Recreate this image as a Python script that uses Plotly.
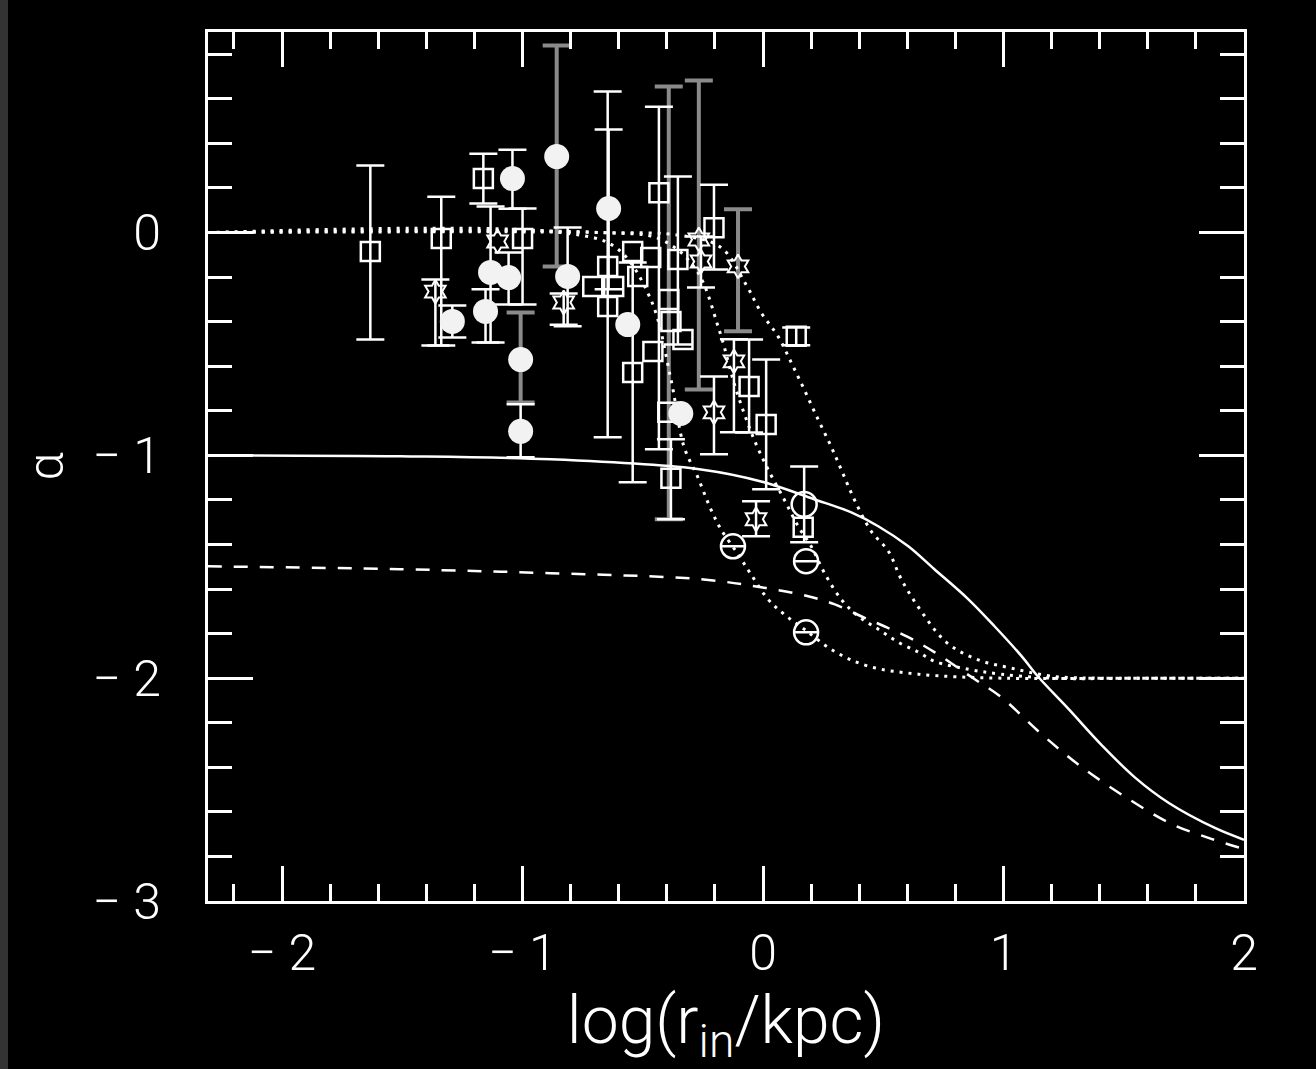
import plotly.graph_objects as go

# ---- model curves: logarithmic slope alpha versus log(r_in/kpc) ----
solid_x = [-2.31, -1.508, -0.883, -0.258, -0.008, 0.2125, 0.367, 0.479, 0.604, 0.7125,
           0.854, 0.9625, 1.075, 1.146, 1.271, 1.408, 1.546, 1.6875, 1.879, 2.0]
solid_y = [-1.0, -1.004, -1.018, -1.063, -1.117, -1.197, -1.256, -1.318, -1.408, -1.511,
           -1.646, -1.767, -1.901, -1.996, -2.139, -2.300, -2.445, -2.560, -2.672, -2.725]

dashed_x = [-2.31, -1.508, -0.883, -0.258, -0.008, 0.1875, 0.296, 0.408, 0.504, 0.604,
            0.7125, 0.879, 0.99, 1.158, 1.325, 1.521, 1.7, 1.867, 2.0]
dashed_y = [-1.498, -1.511, -1.529, -1.556, -1.592, -1.632, -1.668, -1.722, -1.767, -1.816,
            -1.883, -2.004, -2.085, -2.251, -2.399, -2.543, -2.655, -2.722, -2.767]

dotA_x = [-2.31, -0.675, -0.342, -0.175, -0.071, -0.008, 0.0625, 0.117, 0.171, 0.229, 0.283,
          0.325, 0.379, 0.45, 0.521, 0.575, 0.658, 0.7625, 0.8875, 1.033, 1.2, 1.408, 1.7, 2.0]
dotA_y = [0.0, 0.0, -0.013, -0.067, -0.233, -0.359, -0.466, -0.583, -0.704, -0.839, -0.960,
          -1.063, -1.197, -1.341, -1.430, -1.556, -1.700, -1.839, -1.915, -1.955, -1.991, -2.0,
          -2.0, -2.0]

dotB_x = [-2.31, -0.675, -0.425, -0.279, -0.183, -0.1125, -0.0375, 0.021, 0.0875, 0.146, 0.2,
          0.254, 0.325, 0.396, 0.479, 0.5625, 0.646, 0.7125, 0.854, 0.99, 1.2, 1.6, 2.0]
dotB_y = [0.0, 0.0, -0.031, -0.166, -0.435, -0.704, -0.928, -1.063, -1.197, -1.318, -1.408,
          -1.525, -1.646, -1.722, -1.780, -1.839, -1.883, -1.924, -1.960, -1.982, -2.0, -2.0, -2.0]

dotC_x = [-2.31, -0.842, -0.6125, -0.467, -0.383, -0.329, -0.271, -0.217, -0.175, -0.104,
          -0.05, 0.021, 0.0875, 0.171, 0.296, 0.4375, 0.646, 0.99, 1.5, 2.0]
dotC_y = [0.0, 0.0, -0.067, -0.300, -0.659, -0.960, -1.099, -1.242, -1.332, -1.444,
          -1.534, -1.646, -1.713, -1.780, -1.879, -1.946, -1.982, -2.0, -2.0, -2.0]

# ---- measured slopes (open squares) ----
sq_x = [-1.633, -1.338, -1.163, -1.0, -0.433, -0.204, -0.646, -0.542, -0.467, -0.354, -0.708,
        -0.621, -0.521, -0.392, -0.646, -0.383, -0.333, -0.542, -0.458, -0.396, -0.383, -0.058,
        0.013, 0.138, 0.167]
sq_y = [-0.085, -0.027, 0.242, -0.027, 0.179, 0.022, -0.152, -0.085, -0.112, -0.121, -0.242,
        -0.242, -0.197, -0.300, -0.332, -0.399, -0.480, -0.628, -0.534, -0.807, -1.103, -0.691,
        -0.861, -0.466, -1.323]
sq_up = [0.386, 0.188, 0.112, 0.135, 0.386, 0.193, 0.785, 0, 0, 0.372, 0, 0, 0, 0, 0, 0, 0,
         0.493, 0, 0, 0.175, 0.211, 0.291, 0.04, 0]
sq_dn = [0.395, 0.480, 0.112, 0.296, 1.152, 0.188, 0.767, 0, 0, 0.381, 0, 0, 0, 0, 0, 0, 0,
         0.493, 0, 0, 0.184, 0.206, 0.291, 0.04, 0]

# ---- filled circles ----
ci_x = [-0.858, -1.042, -0.642, -1.133, -1.058, -0.8125, -1.154, -1.292, -0.5625, -1.008, -1.008, -0.342]
ci_y = [0.341, 0.242, 0.108, -0.179, -0.202, -0.197, -0.354, -0.399, -0.413, -0.570, -0.892, -0.812]
ci_up = [0, 0.130, 0.354, 0.296, 0.112, 0.220, 0.099, 0.072, 0, 0, 0.121, 0]
ci_dn = [0, 0.135, 0.363, 0.314, 0.121, 0.224, 0.139, 0.072, 0, 0, 0.117, 0]

# ---- stars ----
st_x = [-1.3625, -1.104, -0.829, -0.267, -0.258, -0.104, -0.121, -0.204, -0.029]
st_y = [-0.265, -0.040, -0.314, -0.031, -0.130, -0.152, -0.578, -0.807, -1.287]
st_up = [0.054, 0, 0.04, 0, 0.112, 0, 0.099, 0.161, 0.081]
st_dn = [0.242, 0, 0.10, 0, 0.117, 0, 0.318, 0.188, 0.076]

# ---- open circle ----
oc_x = [0.171]
oc_y = [-1.220]
oc_up = [0.170]
oc_dn = [0.170]

# ---- barred circles ----
th_x = [-0.125, 0.179, 0.179]
th_y = [-1.408, -1.475, -1.794]

# ---- grey (lower weight) error bars ----
gr_x = [-0.392, -0.858, -1.008, -0.267, -0.104]
gr_y = [-0.300, 0.341, -0.570, -0.031, -0.152]
gr_up = [0.955, 0.498, 0.211, 0.713, 0.256]
gr_dn = [0.987, 0.493, 0.193, 0.673, 0.291]

WHITE = "#ffffff"
GREY = "#8a8a8a"

fig = go.Figure()


def bars(x, y, up, dn, color, thick, width):
    keep = [i for i in range(len(x)) if up[i] > 0 or dn[i] > 0]
    fig.add_trace(go.Scatter(
        x=[x[i] for i in keep], y=[y[i] for i in keep], mode="markers",
        marker=dict(size=1, opacity=0), hoverinfo="skip", showlegend=False,
        error_y=dict(type="data", symmetric=False,
                     array=[up[i] for i in keep], arrayminus=[dn[i] for i in keep],
                     color=color, thickness=thick, width=width)))


bars(gr_x, gr_y, gr_up, gr_dn, GREY, 4, 14)

for cx, cy, dash, w in [(solid_x, solid_y, "solid", 2.5), (dashed_x, dashed_y, "14px,12px", 2.5),
                        (dotA_x, dotA_y, "3px,6px", 3), (dotB_x, dotB_y, "3px,6px", 3),
                        (dotC_x, dotC_y, "3px,6px", 3)]:
    fig.add_trace(go.Scatter(x=cx, y=cy, mode="lines", line_shape="spline",
                             line=dict(color=WHITE, width=w, dash=dash, simplify=False),
                             cliponaxis=False, hoverinfo="skip", showlegend=False))

bars(sq_x, sq_y, sq_up, sq_dn, WHITE, 2.5, 14)
bars(ci_x, ci_y, ci_up, ci_dn, WHITE, 2.5, 14)
bars(st_x, st_y, st_up, st_dn, WHITE, 2.5, 14)
bars(oc_x, oc_y, oc_up, oc_dn, WHITE, 2.5, 14)

fig.add_trace(go.Scatter(x=sq_x, y=sq_y, mode="markers", showlegend=False,
                         marker=dict(symbol="square-open", size=19, color=WHITE,
                                     line=dict(width=2.5, color=WHITE))))
fig.add_trace(go.Scatter(x=ci_x, y=ci_y, mode="markers", showlegend=False,
                         marker=dict(symbol="circle", size=25, color="#f2f2f2",
                                     line=dict(width=0))))
fig.add_trace(go.Scatter(x=st_x, y=st_y, mode="markers", showlegend=False,
                         marker=dict(symbol="hexagram-open", size=18, color=WHITE,
                                     line=dict(width=2, color=WHITE))))
fig.add_trace(go.Scatter(x=oc_x, y=oc_y, mode="markers", showlegend=False,
                         marker=dict(symbol="circle-open", size=25, color=WHITE,
                                     line=dict(width=2.5, color=WHITE))))
fig.add_trace(go.Scatter(x=th_x, y=th_y, mode="markers", showlegend=False,
                         marker=dict(symbol="circle-open", size=24, color=WHITE,
                                     line=dict(width=2.5, color=WHITE)),
                         error_y=dict(type="constant", value=0, color=WHITE,
                                      thickness=2.5, width=11)))

FONT = dict(family="Roboto, Liberation Sans, sans-serif", size=50, color=WHITE, weight=300)
TITLE_FONT = dict(family="Roboto, Liberation Sans, sans-serif", size=66, color=WHITE, weight=300)

fig.update_layout(
    width=1316, height=1069,
    paper_bgcolor="#000000", plot_bgcolor="#000000",
    margin=dict(l=208, r=72, t=32, b=168),
    font=FONT,
    shapes=[dict(type="rect", xref="paper", yref="paper",
                 x0=-208 / 1036, x1=-200 / 1036, y0=-168 / 869, y1=1 + 32 / 869,
                 fillcolor="#333333", line=dict(width=0), layer="below")],
    xaxis=dict(range=[-2.308, 2.0], tickvals=[-2, -1, 0, 1, 2],
               ticktext=["\u2212 2", "\u2212 1", "0", "1", "2"],
               ticks="inside", ticklen=35, tickwidth=2.5, tickcolor=WHITE,
               showline=True, linecolor=WHITE, linewidth=3, mirror="allticks",
               showgrid=False, zeroline=False, tickfont=FONT,
               ticklabelstandoff=6,
               minor=dict(dtick=0.2, tick0=0, ticks="inside", ticklen=17,
                          tickwidth=2.5, tickcolor=WHITE, showgrid=False),
               title=dict(text="log(r<sub>in</sub>/kpc)", font=TITLE_FONT, standoff=0)),
    yaxis=dict(range=[-3.0, 0.9], tickvals=[-3, -2, -1, 0],
               ticktext=["\u2212 3", "\u2212 2", "\u2212 1", "0"],
               ticks="inside", ticklen=45, tickwidth=2.5, tickcolor=WHITE,
               showline=True, linecolor=WHITE, linewidth=3, mirror="allticks",
               showgrid=False, zeroline=False, tickfont=FONT,
               ticklabelstandoff=34,
               minor=dict(dtick=0.2, tick0=0, ticks="inside", ticklen=24,
                          tickwidth=2.5, tickcolor=WHITE, showgrid=False),
               title=dict(text="\u03b1", font=FONT, standoff=14)),
)

fig.write_html("out.html")
